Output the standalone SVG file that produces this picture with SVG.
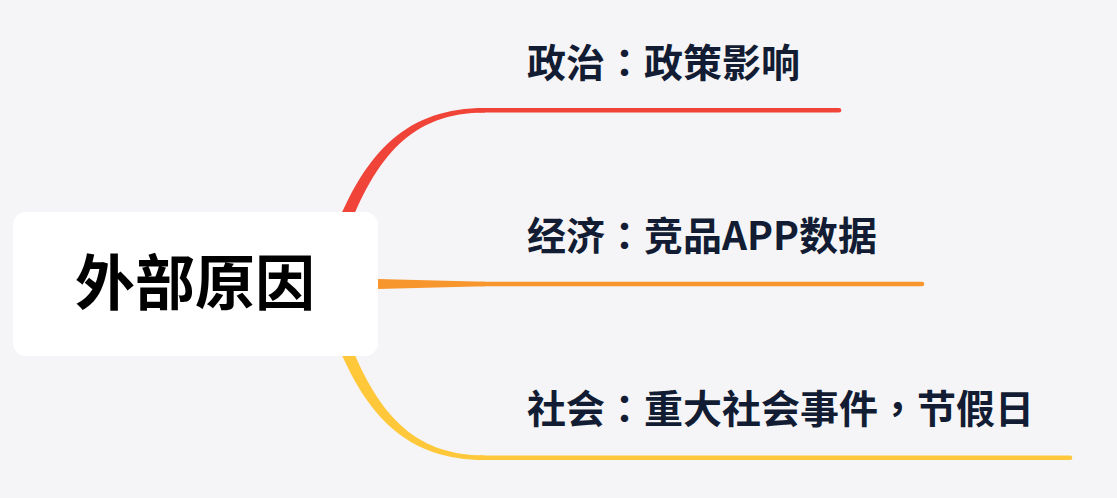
<svg xmlns="http://www.w3.org/2000/svg" width="1117" height="498" viewBox="0 0 1117 498">
  <style>
    .bg { fill: #f5f5f8; }
    .root-box { fill: #ffffff; }
    .root-text { font-family: "Noto Sans CJK SC", "Noto Sans", sans-serif; font-weight: 700; font-size: 60px; fill: #000000; }
    .label { font-family: "Noto Sans CJK SC", "Noto Sans", sans-serif; font-weight: 700; font-size: 39px; fill: #121c33; }
    .punct { font-family: "Noto Sans CJK TC", "Noto Sans CJK SC", sans-serif; }
    .line { fill: none; stroke-width: 4.6; stroke-linecap: round; }
  </style>
  <rect class="bg" x="0" y="0" width="1117" height="498"/>
  <g id="connectors">
    <path d="M334,232 C366,150 408,108 485,108 L485,112.6 C412,112.6 376,156 346,235 Z" fill="#f04438"/>
    <line class="line" x1="480" y1="110.3" x2="839" y2="110.3" stroke="#f04438"/>
    <path d="M300,277 L485,281.7 L485,286.3 L300,291 Z" fill="#f8962e"/>
    <line class="line" x1="480" y1="284" x2="922" y2="284" stroke="#f8962e"/>
    <path d="M334,336 C366,418 408,460 485,460 L485,455.4 C412,455.4 376,412 346,333 Z" fill="#ffc83a"/>
    <line class="line" x1="480" y1="457.7" x2="1070" y2="457.7" stroke="#ffc83a"/>
  </g>
  <g id="root">
    <rect class="root-box" x="13" y="212" width="365" height="144" rx="13" ry="13"/>
    <text class="root-text" x="195" y="305" text-anchor="middle">外部原因</text>
  </g>
  <g id="node-politics">
    <text class="label" x="527" y="76.5">政治<tspan class="punct">：</tspan>政策影响</text>
  </g>
  <g id="node-economy">
    <text class="label" x="527" y="250">经济<tspan class="punct">：</tspan>竞品APP数据</text>
  </g>
  <g id="node-society">
    <text class="label" x="527" y="423">社会<tspan class="punct">：</tspan>重大社会事件<tspan class="punct">，</tspan>节假日</text>
  </g>
</svg>
